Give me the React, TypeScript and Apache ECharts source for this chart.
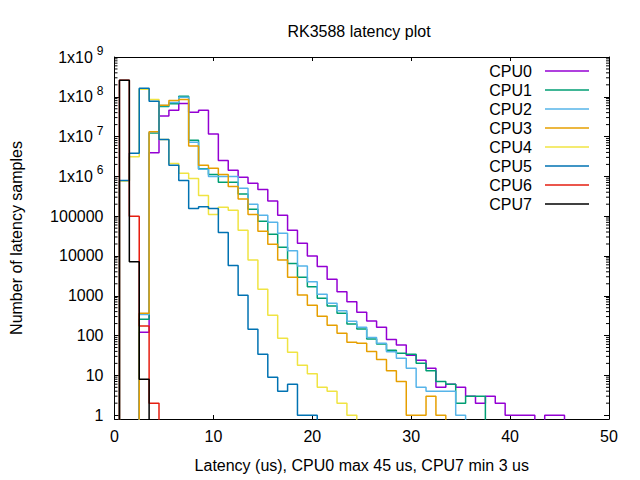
import React, { useEffect, useRef } from "react";
import * as echarts from "echarts";

// Histogram counts per 1 us bin, index = latency in us (bin 0, 1, 2, ...)
const cpuNames = ["CPU0", "CPU1", "CPU2", "CPU3", "CPU4", "CPU5", "CPU6", "CPU7"];
const cpu0 = [0, 0, 0, 121, 3.9e6, 3.3e7, 4.6e7, 6.8e7, 4.1e7, 4.6e7, 1.16e7, 2.5e6, 1.42e6, 9.5e5, 6.7e5, 4.7e5, 2.4e5, 1.05e5, 4.4e4, 2.1e4, 1.0e4, 5400, 2600, 1260, 710, 384, 232, 161, 80, 58, 32, 24, 15, 5, 6, 5, 3, 2, 3, 2, 1, 1, 1, 0, 1, 1];
const cpu1 = [0, 0, 0, 256, 1.23e7, 5.7e7, 6.7e7, 1.03e8, 8.1e6, 1.56e6, 1.12e6, 7.1e5, 7.1e5, 3.6e5, 1.5e5, 7.5e4, 3.5e4, 1.65e4, 6500, 2900, 1690, 860, 550, 362, 195, 146, 82, 61, 43, 36, 34, 20, 13, 7, 6, 2, 3, 3];
const cpu2 = [0, 0, 0, 340, 1.28e7, 6.0e7, 7.2e7, 9.7e7, 7.2e6, 1.5e6, 1.0e6, 1.0e6, 1.0e6, 5.0e5, 2.0e5, 1.05e5, 7.0e4, 3.7e4, 1.36e4, 5600, 2250, 1090, 650, 420, 228, 161, 90, 64, 39, 27, 15, 5, 4, 4, 4, 1];
const cpu3 = [0, 0, 0, 362, 1.32e7, 6.1e7, 8.1e7, 8.6e7, 5.8e6, 1.9e6, 1.6e6, 1.12e6, 5.6e5, 2.7e5, 1.1e5, 4.2e4, 1.96e4, 7900, 2900, 1040, 575, 304, 181, 114, 68, 64, 40, 25, 13, 7, 1, 1, 3, 1];
const cpu4 = [0, 7.6e5, 3.1e6, 1.54e8, 8.6e7, 8.5e6, 2.1e6, 1.19e6, 8.9e5, 3.3e5, 1.1e5, 1.67e5, 1.4e5, 4.4e4, 7900, 1450, 323, 85, 38, 18, 11, 5, 4, 2, 1];
const cpu5 = [0, 7.9e5, 3.8e6, 1.63e8, 7.7e7, 8.5e6, 1.9e6, 7.9e5, 1.57e5, 1.73e5, 1.57e5, 3.9e4, 5800, 1030, 144, 34, 9, 4, 6, 1, 1];
const cpu6 = [0, 2.6e8, 1.0e5, 174, 2];
const cpu7 = [0, 2.6e8, 7200, 8];
const cpuData = [cpu0, cpu1, cpu2, cpu3, cpu4, cpu5, cpu6, cpu7];

const titleText = "RK3588 latency plot";
const xLabel = "Latency (us), CPU0 max 45 us, CPU7 min 3 us";
const yLabel = "Number of latency samples";

const colors = ["#9400d3", "#009e73", "#56b4e9", "#e69f00", "#f0e442", "#0072b2", "#e51e10", "#000000"];
const FONT = "'Liberation Sans', Arial, sans-serif";
const FLOOR = 0.01; // empty bins sit below the axis minimum and get clipped

const minorTicks: number[] = [];
for (let d = 0; d < 9; d++) for (let m = 2; m <= 9; m++) minorTicks.push(m * Math.pow(10, d));

export default function App() {
  const ref = useRef<HTMLDivElement>(null);
  useEffect(() => {
    const chart = echarts.init(ref.current!, null, { renderer: "svg" });
    const lineSeries = cpuNames.map((name, k) => ({
      name,
      type: "line",
      xAxisIndex: 0,
      yAxisIndex: 0,
      step: "middle",
      symbol: "none",
      showSymbol: false,
      clip: true,
      color: colors[k],
      lineStyle: { color: colors[k], width: 1.5 },
      itemStyle: { color: colors[k] },
      emphasis: { disabled: true },
      data: cpuData[k]
        .map((c, i) => [i, c > 0 ? c : FLOOR])
        .concat([[cpuData[k].length, FLOOR]]),
    }));
    const axisText = { color: "#000", fontSize: 16, fontFamily: FONT };
    const option: any = {
      animation: false,
      backgroundColor: "#fff",
      title: {
        text: titleText,
        left: 354,
        top: 18,
        textAlign: "center",
        textStyle: { color: "#000", fontSize: 16, fontWeight: "normal", fontFamily: FONT },
      },
      grid: { left: 114.5, right: 31, top: 57, bottom: 61, containLabel: false, outerBoundsMode: "none" },
      legend: {
        orient: "vertical",
        right: 51,
        top: 63,
        padding: 0,
        itemGap: 3,
        itemWidth: 44,
        itemHeight: 1.5,
        icon: "rect",
        align: "right",
        selectedMode: false,
        textStyle: { ...axisText, padding: [0, 8, 0, 0] },
        data: cpuNames,
      },
      xAxis: [
        {
          type: "value",
          min: 0,
          max: 50,
          interval: 10,
          position: "bottom",
          axisLine: { show: true, onZero: false, lineStyle: { color: "#000", width: 1 } },
          axisTick: { show: true, inside: true, length: 4, lineStyle: { color: "#000" } },
          axisLabel: { ...axisText, margin: 9 },
          splitLine: { show: false },
          name: xLabel,
          nameLocation: "middle",
          nameGap: 38,
          nameTextStyle: axisText,
        },
        {
          type: "value",
          min: 0,
          max: 50,
          interval: 10,
          position: "top",
          axisLine: { show: true, onZero: false, lineStyle: { color: "#000", width: 1 } },
          axisTick: { show: true, inside: true, length: 4, lineStyle: { color: "#000" } },
          axisLabel: { show: false },
          splitLine: { show: false },
        },
      ],
      yAxis: [
        {
          type: "log",
          logBase: 10,
          min: 0.8,
          max: 1e9,
          position: "left",
          axisLine: { show: true, onZero: false, lineStyle: { color: "#000", width: 1 } },
          axisTick: { show: true, inside: true, length: 5, lineStyle: { color: "#000" } },
          axisLabel: {
            ...axisText,
            margin: 11,
            showMinLabel: false,
            formatter: (v: number) => {
              const l = Math.log10(v);
              const e = Math.round(l);
              if (Math.abs(l - e) > 1e-6) return "";
              if (e < 6) return String(Math.round(v));
              return "{m|1x10}{s|" + e + "}";
            },
            rich: {
              m: { fontSize: 16, fontFamily: FONT, color: "#000" },
              s: { fontSize: 12, fontFamily: FONT, color: "#000", padding: [0, 0, 12, 4] },
            },
          },
          splitLine: { show: false },
          minorTick: { show: false },
          name: yLabel,
          nameLocation: "middle",
          nameGap: 90,
          nameRotate: 90,
          nameTextStyle: axisText,
        },
        {
          type: "log",
          logBase: 10,
          min: 0.8,
          max: 1e9,
          position: "right",
          axisLine: { show: true, onZero: false, lineStyle: { color: "#000", width: 1 } },
          axisTick: { show: true, inside: true, length: 5, lineStyle: { color: "#000" } },
          axisLabel: { show: false },
          splitLine: { show: false },
        },
      ],
      series: [
        {
          type: "custom",
          name: "minorTicks",
          xAxisIndex: 0,
          yAxisIndex: 0,
          silent: true,
          clip: false,
          data: minorTicks.map((v) => [0, v]),
          renderItem: (_p: any, api: any) => {
            const v = api.value(1);
            const l = api.coord([0, v]);
            const r = api.coord([50, v]);
            return {
              type: "group",
              children: [
                { type: "line", shape: { x1: l[0], y1: l[1], x2: l[0] + 3, y2: l[1] }, style: { stroke: "#000", lineWidth: 1 } },
                { type: "line", shape: { x1: r[0] - 3, y1: r[1], x2: r[0], y2: r[1] }, style: { stroke: "#000", lineWidth: 1 } },
              ],
            };
          },
        },
        ...lineSeries,
      ],
    };
    chart.setOption(option);
    return () => chart.dispose();
  }, []);
  return (
    <div
      ref={ref}
      style={{ position: "fixed", left: 0, top: 0, width: 640, height: 480, background: "#fff" }}
    />
  );
}
